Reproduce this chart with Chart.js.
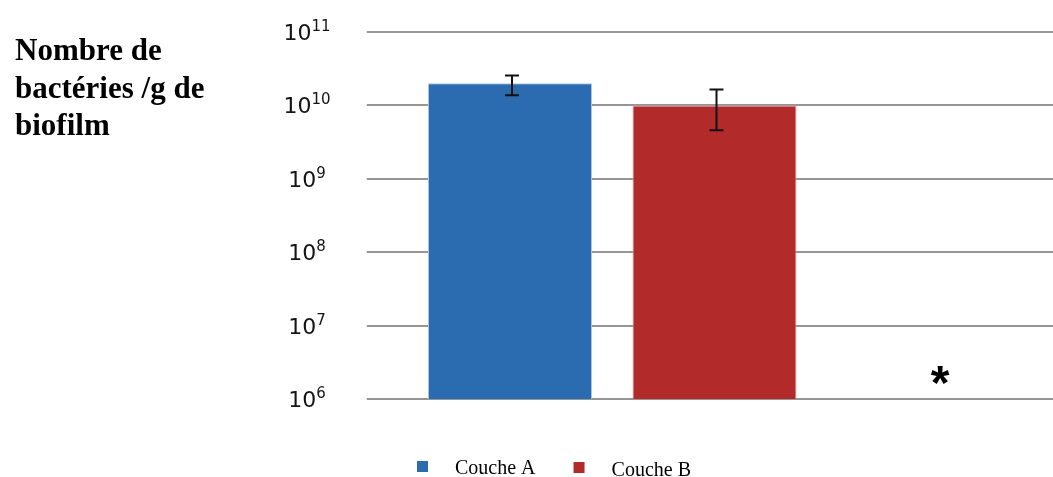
<!DOCTYPE html>
<html>
<head>
<meta charset="utf-8">
<script src="https://cdn.jsdelivr.net/npm/chart.js@4.4.1/dist/chart.umd.min.js"></script>
<style>
  html, body { margin: 0; padding: 0; background: #ffffff; }
  #wrap { width: 1053px; height: 477px; }
</style>
</head>
<body>
<div id="wrap"><canvas id="c" width="1053" height="477"></canvas></div>
<script>
// ---- data ----
const categories = ['Couche A', 'Couche B', ''];
const seriesLabels = ['Couche A', 'Couche B'];
const valuesA = [2.0e10, null, null];
const valuesB = [null, 1.0e10, null];
const errLowA = [1.37e10, null, null];
const errHighA = [2.56e10, null, null];
const errLowB = [null, 4.6e9, null];
const errHighB = [null, 1.65e10, null];
const annotations = ['', '', '*'];
const tickValues = [1e6, 1e7, 1e8, 1e9, 1e10, 1e11];
const tickExponents = ['6', '7', '8', '9', '10', '11'];
const yTitleLines = ['Nombre de', 'bactéries /g de', 'biofilm'];

const errLows = [errLowA, errLowB];
const errHighs = [errHighA, errHighB];
const colors = ['#2b6bb0', '#b22a2a'];
const borders = ['#a9c6e8', '#e3a3a3'];

const gridColor = '#969696';

const customDraw = {
  id: 'customDraw',
  afterDatasetsDraw(chart) {
    const ctx = chart.ctx;
    const y = chart.scales.y;
    const x = chart.scales.x;
    // error bars
    ctx.save();
    ctx.strokeStyle = '#111111';
    ctx.lineWidth = 2;
    chart.data.datasets.forEach((ds, di) => {
      const meta = chart.getDatasetMeta(di);
      ds.data.forEach((v, j) => {
        if (v === null) return;
        const px = meta.data[j].x + 2;
        const yHi = y.getPixelForValue(errHighs[di][j]);
        const yLo = y.getPixelForValue(errLows[di][j]);
        ctx.beginPath();
        ctx.moveTo(px, yHi); ctx.lineTo(px, yLo);
        ctx.moveTo(px - 7, yHi); ctx.lineTo(px + 7, yHi);
        ctx.moveTo(px - 7, yLo); ctx.lineTo(px + 7, yLo);
        ctx.stroke();
      });
    });
    ctx.restore();

    // annotations (asterisk)
    ctx.save();
    ctx.fillStyle = '#000000';
    ctx.font = 'bold 48px "Liberation Sans"';
    ctx.textAlign = 'center';
    ctx.textBaseline = 'alphabetic';
    annotations.forEach((a, j) => {
      if (!a) return;
      const cx = x.getPixelForValue(j) + 21;
      const m = ctx.measureText(a);
      const inkBottom = y.bottom - 15;
      ctx.fillText(a, cx, inkBottom - m.actualBoundingBoxDescent);
    });
    ctx.restore();
  },
  afterDraw(chart) {
    const ctx = chart.ctx;
    const y = chart.scales.y;
    // y tick labels with superscript exponents
    ctx.save();
    ctx.fillStyle = '#141414';
    const baseFont = '22px "DejaVu Sans"';
    const expFont = '15px "DejaVu Sans"';
    y.ticks.forEach((t) => {
      const py = y.getPixelForValue(t.value);
      const exp = tickExponents[tickValues.indexOf(t.value)];
      ctx.font = baseFont;
      const wBase = ctx.measureText('10').width;
      ctx.font = expFont;
      const wExp = ctx.measureText(exp).width;
      const cx = 307;
      const x0 = cx - (wBase + wExp) / 2;
      ctx.font = baseFont;
      ctx.textAlign = 'left';
      ctx.textBaseline = 'alphabetic';
      ctx.fillText('10', x0, py + 8);
      ctx.font = expFont;
      ctx.fillText(exp, x0 + wBase, py - 1);
    });
    ctx.restore();

    // y axis title
    ctx.save();
    ctx.fillStyle = '#000000';
    ctx.font = 'bold 31px "Liberation Serif"';
    ctx.textAlign = 'left';
    ctx.textBaseline = 'alphabetic';
    yTitleLines.forEach((line, i) => {
      ctx.fillText(line, 15, 60 + i * 37.5);
    });
    ctx.restore();

    // legend
    ctx.save();
    ctx.font = '20px "Liberation Serif"';
    ctx.textAlign = 'left';
    ctx.textBaseline = 'alphabetic';
    let lx = 417;
    const baseY = 474;
    seriesLabels.forEach((lab, i) => {
      ctx.fillStyle = colors[i];
      ctx.fillRect(lx, baseY - 13 + i, 11, 11);
      ctx.fillStyle = '#000000';
      ctx.fillText(lab, lx + 38, baseY + i * 2);
      lx += 38 + ctx.measureText(lab).width + 38;
    });
    ctx.restore();
  }
};

const setTicks = (scale) => {
  scale.ticks = tickValues.map(v => ({ value: v }));
};

new Chart(document.getElementById('c'), {
  type: 'bar',
  data: {
    labels: categories,
    datasets: [
      { label: seriesLabels[0], data: valuesA, backgroundColor: colors[0], borderColor: borders[0], borderWidth: 1 },
      { label: seriesLabels[1], data: valuesB, backgroundColor: colors[1], borderColor: borders[1], borderWidth: 1 }
    ]
  },
  options: {
    responsive: false,
    animation: false,
    devicePixelRatio: 1,
    layout: { padding: { left: 0, right: 0, top: 32, bottom: 78 } },
    datasets: { bar: { grouped: false, categoryPercentage: 1, barPercentage: 0.802 } },
    plugins: { legend: { display: false }, tooltip: { enabled: false } },
    scales: {
      x: { display: false },
      y: {
        type: 'logarithmic',
        position: 'left',
        min: 1e6,
        max: 1e11,
        afterBuildTicks: setTicks,
        afterFit: (s) => { s.width = 407.75; },
        ticks: { display: false },
        border: { display: false },
        grid: { color: gridColor, lineWidth: 2, drawTicks: true, tickLength: 41 }
      },
      y2: {
        type: 'logarithmic',
        position: 'right',
        min: 1e6,
        max: 1e11,
        afterBuildTicks: setTicks,
        afterFit: (s) => { s.width = 31.75; },
        ticks: { display: false },
        border: { display: false },
        grid: { color: gridColor, lineWidth: 2, drawOnChartArea: false, drawTicks: true, tickLength: 32 }
      }
    }
  },
  plugins: [customDraw]
});
</script>
</body>
</html>
